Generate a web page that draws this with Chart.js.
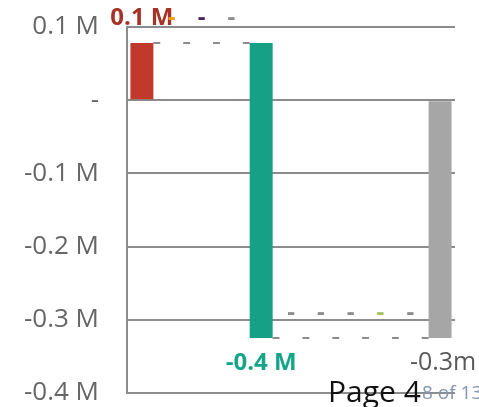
<!DOCTYPE html>
<html>
<head>
<meta charset="utf-8">
<script src="https://cdn.jsdelivr.net/npm/chart.js@4.4.1/dist/chart.umd.min.js"></script>
<style>
  html, body { margin: 0; padding: 0; background: #fff; }
  #wrap { position: relative; width: 479px; height: 407px; overflow: hidden; }
  #wrap canvas { display: block; }
  #page { position: absolute; left: 328px; top: 370px; font: 30px "Open Sans", sans-serif; color: #111; white-space: nowrap; }
  #pageof { position: absolute; left: 422px; top: 379px; font: 19px "Open Sans", sans-serif; color: #8497b0; white-space: nowrap; }
</style>
</head>
<body>
<div id="wrap">
  <canvas id="chart" width="479" height="407"></canvas>
  <div id="page">Page 4</div>
  <div id="pageof">8 of 13</div>
</div>
<script>
// waterfall steps (in millions); last one is the total
const categories = ['Start', 'Step 1', 'Step 2', 'Step 3', 'Step 4', 'Step 5', 'Step 6', 'Step 7', 'Step 8', 'Step 9', 'Total'];
const changes = [0.078, 0, 0, 0, -0.403, 0, 0, 0, 0, 0];
const total = -0.325;
const barColors = ['#c0392b', '#f39c12', '#5b2c6f', '#8c8c8c', '#16a085', '#8c8c8c', '#8c8c8c', '#8c8c8c', '#a4c35e', '#8c8c8c', '#a6a6a6'];
const labelColors = ['#a93226', '#f39c12', '#4a235a', '#8c8c8c', '#17a589', '#8c8c8c', '#8c8c8c', '#8c8c8c', '#a4c35e', '#8c8c8c', '#595959'];
const yTicks = [0.1, 0, -0.1, -0.2, -0.3, -0.4];

// build floating ranges
let running = 0;
const ranges = [];
const ends = [];
changes.forEach((c) => {
  ranges.push([running, running + c]);
  running += c;
  ends.push(running);
});
ranges.push([0, total]);
ends.push(total);

function fmtTick(v) {
  if (Math.abs(v) < 1e-9) return '-';
  return v.toFixed(1) + ' M';
}

function fmtLabel(i) {
  if (i === categories.length - 1) return total.toFixed(1) + 'm';
  const v = changes[i];
  if (v === 0) return '-';
  return v.toFixed(1) + ' M';
}

const connectors = {
  id: 'connectors',
  afterDatasetsDraw(chart) {
    const ctx = chart.ctx;
    const meta = chart.getDatasetMeta(0);
    const y = chart.scales.y;
    ctx.save();
    ctx.strokeStyle = '#8c8c8c';
    ctx.lineWidth = 2;
    for (let i = 0; i < meta.data.length - 1; i++) {
      const a = meta.data[i], b = meta.data[i + 1];
      const py = Math.round(y.getPixelForValue(ends[i]));
      ctx.beginPath();
      ctx.moveTo(a.x + a.width / 2, py);
      ctx.lineTo(b.x - b.width / 2, py);
      ctx.stroke();
    }
    ctx.restore();
  }
};

const barLabels = {
  id: 'barLabels',
  afterDatasetsDraw(chart) {
    const ctx = chart.ctx;
    const meta = chart.getDatasetMeta(0);
    const y = chart.scales.y;
    ctx.save();
    ctx.textAlign = 'center';
    ctx.textBaseline = 'middle';
    meta.data.forEach((bar, i) => {
      const last = i === categories.length - 1;
      const v = last ? total : changes[i];
      const top = Math.max(ranges[i][0], ranges[i][1]);
      const bottom = Math.min(ranges[i][0], ranges[i][1]);
      let py;
      if (v >= 0) py = y.getPixelForValue(last ? top : ranges[i][1]) - 25;
      else py = y.getPixelForValue(bottom) + 25;
      ctx.font = last ? '25px "Open Sans", sans-serif' : 'bold 24px "Open Sans", sans-serif';
      ctx.fillStyle = labelColors[i];
      ctx.fillText(fmtLabel(i), bar.x + (last ? 3 : 0), py);
    });
    ctx.restore();
  }
};

new Chart(document.getElementById('chart'), {
  type: 'bar',
  data: {
    labels: categories,
    datasets: [{
      data: ranges,
      backgroundColor: barColors,
      borderWidth: 0,
      categoryPercentage: 1,
      barPercentage: 0.77
    }]
  },
  options: {
    responsive: false,
    animation: false,
    layout: { padding: { top: 27, right: 24, bottom: 14, left: 0 } },
    plugins: { legend: { display: false }, tooltip: { enabled: false } },
    scales: {
      x: { display: false },
      y: {
        min: -0.4,
        max: 0.1,
        afterFit: (s) => { s.width = 127; s.paddingTop = 0; s.paddingBottom = 0; },
        afterBuildTicks: (s) => { s.ticks = yTicks.map(v => ({ value: v })); },
        grid: { color: '#8c8c8c', lineWidth: 2, drawTicks: false },
        border: { color: '#8c8c8c', width: 2 },
        ticks: {
          padding: 28,
          color: '#666',
          font: { family: '"Open Sans", sans-serif', size: 26 },
          callback: (v) => fmtTick(v)
        }
      }
    }
  },
  plugins: [connectors, barLabels]
});
</script>
</body>
</html>
